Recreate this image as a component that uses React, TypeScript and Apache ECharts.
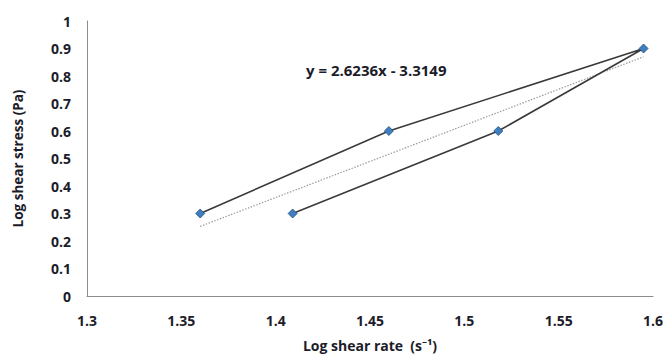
import React, { useEffect, useRef } from "react";
import * as echarts from "echarts";

const xValues = [1.36, 1.46, 1.595, 1.518, 1.409];
const yValues = [0.3, 0.6, 0.9, 0.6, 0.3];
const trendX = [1.36, 1.595];
const trendY = [0.253, 0.87];
const equationText = "y = 2.6236x - 3.3149";
const xTitle = "Log shear rate  (s\u207B\u00B9)";
const yTitle = "Log shear stress (Pa)";

const FONT = "'Open Sans', 'Noto Sans', sans-serif";

export default function App() {
  const ref = useRef<HTMLDivElement>(null);
  useEffect(() => {
    if (!ref.current) return;
    const chart = echarts.init(ref.current, undefined, { renderer: "svg" });
    const labelStyle = {
      color: "#1c1c2a",
      fontFamily: FONT,
      fontWeight: "bold" as const,
      fontSize: 14,
    };
    chart.setOption({
      animation: false,
      backgroundColor: "#ffffff",
      grid: { left: 87, right: 12, top: 21, bottom: 61 },
      xAxis: {
        type: "value",
        min: 1.3,
        max: 1.6,
        interval: 0.05,
        name: xTitle,
        nameLocation: "middle",
        nameGap: 42,
        nameTextStyle: { ...labelStyle, fontSize: 14 },
        axisLine: { show: true, lineStyle: { color: "#8c8c8c", width: 1 } },
        axisTick: { show: false },
        splitLine: { show: false },
        axisLabel: { ...labelStyle, margin: 17, formatter: (v: number) => String(+v.toFixed(2)) },
      },
      yAxis: {
        type: "value",
        min: 0,
        max: 1,
        interval: 0.1,
        name: yTitle,
        nameLocation: "middle",
        nameGap: 62,
        nameRotate: 90,
        nameTextStyle: { ...labelStyle, fontSize: 13.5 },
        axisLine: { show: true, lineStyle: { color: "#8c8c8c", width: 1 } },
        axisTick: { show: false },
        splitLine: { show: false },
        axisLabel: { ...labelStyle, margin: 16, formatter: (v: number) => String(+v.toFixed(1)) },
      },
      series: [
        {
          type: "line",
          data: trendX.map((x, i) => [x, trendY[i]]),
          symbol: "none",
          lineStyle: { color: "#9a9a9a", width: 1.2, type: [1.5, 1.5] },
          silent: true,
          z: 1,
        },
        {
          type: "line",
          data: xValues.map((x, i) => [x, yValues[i]]),
          symbol: "diamond",
          symbolSize: 9,
          itemStyle: { color: "#3f7fc0", borderColor: "#1f4f80", borderWidth: 0.8 },
          lineStyle: { color: "#3a3a3a", width: 1.6 },
          z: 2,
        },
      ],
      graphic: [
        {
          type: "text",
          left: 306,
          top: 62,
          style: {
            text: equationText,
            fill: "#1c1c2a",
            font: `bold 15px ${FONT}`,
          },
        },
      ],
    });
    return () => chart.dispose();
  }, []);
  return (
    <div
      ref={ref}
      style={{ position: "fixed", left: 0, top: 0, width: 666, height: 357 }}
    />
  );
}
